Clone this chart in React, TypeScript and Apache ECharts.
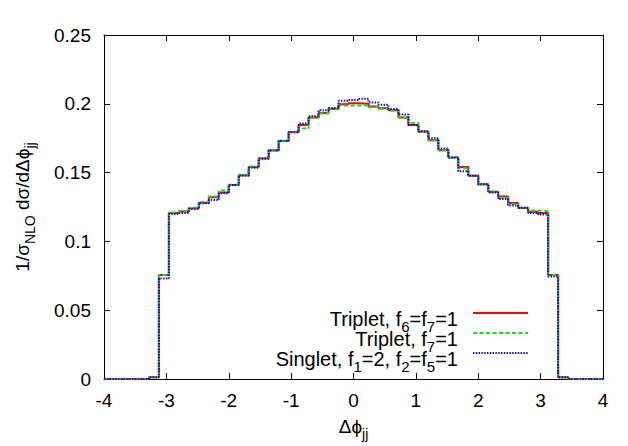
import React, { useEffect, useRef } from "react";
import * as echarts from "echarts";

// Histogram bin edges (Δϕ_jj)
const binEdges = [
  -3.28, -3.12, -2.96, -2.8, -2.64, -2.48, -2.32, -2.16, -2.0, -1.84, -1.68,
  -1.52, -1.36, -1.2, -1.04, -0.88, -0.72, -0.56, -0.4, -0.24, -0.08, 0.08,
  0.24, 0.4, 0.56, 0.72, 0.88, 1.04, 1.2, 1.36, 1.52, 1.68, 1.84, 2.0, 2.16,
  2.32, 2.48, 2.64, 2.8, 2.96, 3.12, 3.28, 3.44,
];

// Triplet, f6=f7=1
const tripletF6F7 = [
  0.0012, 0.0756, 0.1206, 0.1218, 0.124, 0.128, 0.132, 0.1356, 0.141, 0.148,
  0.154, 0.1604, 0.166, 0.173, 0.1793, 0.1846, 0.19, 0.1933, 0.1962, 0.1996,
  0.2004, 0.2, 0.198, 0.1967, 0.1953, 0.19, 0.1846, 0.1798, 0.1735, 0.1662,
  0.161, 0.154, 0.1478, 0.1415, 0.136, 0.1327, 0.1279, 0.1245, 0.1216, 0.1206,
  0.0755, 0.0012,
];

// Triplet, f7=1
const tripletF7 = [
  0.0012, 0.0756, 0.121, 0.1222, 0.1245, 0.1285, 0.1327, 0.137, 0.1412,
  0.1485, 0.1545, 0.1604, 0.1665, 0.173, 0.1795, 0.182, 0.19, 0.193, 0.196,
  0.1987, 0.1987, 0.199, 0.1975, 0.1962, 0.195, 0.19, 0.186, 0.1798, 0.1735,
  0.1662, 0.161, 0.1532, 0.1478, 0.1415, 0.1362, 0.1318, 0.127, 0.1245,
  0.1225, 0.122, 0.0755, 0.0012,
];

// Singlet, f1=2, f2=f5=1
const singlet = [
  0.0012, 0.073, 0.12, 0.1206, 0.1238, 0.1278, 0.13, 0.135, 0.141, 0.1478,
  0.1535, 0.16, 0.1662, 0.1732, 0.1795, 0.1856, 0.191, 0.1953, 0.197, 0.2022,
  0.2028, 0.2036, 0.201, 0.1993, 0.1962, 0.1922, 0.1846, 0.1798, 0.175,
  0.1676, 0.161, 0.151, 0.1478, 0.1415, 0.1356, 0.1308, 0.126, 0.1242, 0.1206,
  0.1196, 0.0745, 0.0012,
];

const seriesNames = [
  "Triplet, f{s|6}=f{s|7}=1",
  "Triplet, f{s|7}=1",
  "Singlet, f{s|1}=2, f{s|2}=f{s|5}=1",
];
const seriesColors = ["#ff0000", "#00ee00", "#0000ff"];
const seriesDash: (number[] | "solid")[] = ["solid", [4, 2.5], [1.4, 1.4]];

const X_MIN = -4;
const X_MAX = 4;

function toSteps(values: number[]): number[][] {
  const pts: number[][] = [[X_MIN, 0]];
  values.forEach((v, i) => pts.push([binEdges[i], v]));
  pts.push([binEdges[binEdges.length - 1], 0]);
  pts.push([X_MAX, 0]);
  return pts;
}

const FONT = "Liberation Sans, Arial, sans-serif";

function makeRich(normal: number, normalLH: number, sub: number, subLH: number, shift: number) {
  return {
    n: {
      fontSize: normal,
      fontFamily: FONT,
      color: "#000",
      lineHeight: normalLH,
      verticalAlign: "top",
    },
    s: {
      fontSize: sub,
      fontFamily: FONT,
      color: "#000",
      lineHeight: subLH,
      padding: [shift, 0, 0, 0],
      verticalAlign: "top",
    },
  };
}

const legendRich = makeRich(20, 16, 15, 10, 9.5);
const nameRich = makeRich(19, 19, 14, 14, 10);

function wrapRich(str: string): string {
  const parts = str.split(/(\{s\|[^}]*\})/);
  return parts
    .filter((p) => p.length > 0)
    .map((p) => (p.startsWith("{s|") ? p : `{n|${p}}`))
    .join("");
}

export default function App() {
  const ref = useRef<HTMLDivElement>(null);
  useEffect(() => {
    if (!ref.current) return;
    const chart = echarts.init(ref.current, null, { renderer: "svg" });
    const data = [tripletF6F7, tripletF7, singlet];

    const legendRightX = 458;
    const legendY = [313, 333, 353];
    const lineX0 = 473;
    const lineX1 = 528;

    const graphics: any[] = [];
    seriesNames.forEach((name, i) => {
      graphics.push({
        type: "text",
        x: legendRightX,
        y: legendY[i] - 4,
        style: {
          text: wrapRich(name),
          rich: legendRich,
          align: "right",
          verticalAlign: "top",
        },
        z: 10,
      });
      graphics.push({
        type: "line",
        shape: { x1: lineX0, y1: legendY[i], x2: lineX1, y2: legendY[i] },
        style: {
          stroke: seriesColors[i],
          lineWidth: 2,
          lineDash: seriesDash[i] === "solid" ? null : seriesDash[i],
        },
        z: 10,
      });
    });

    const axisCommon = {
      type: "value" as const,
      axisLine: { show: true, onZero: false, lineStyle: { color: "#000", width: 1 } },
      axisTick: { show: true, inside: true, length: 6, lineStyle: { color: "#000" } },
      splitLine: { show: false },
    };

    chart.setOption({
      animation: false,
      backgroundColor: "#fff",
      grid: { left: 104, right: 25, top: 35, bottom: 67, containLabel: false },
      xAxis: [
        {
          ...axisCommon,
          position: "bottom",
          min: X_MIN,
          max: X_MAX,
          interval: 1,
          axisLabel: { fontSize: 19, fontFamily: FONT, color: "#000", margin: 12 },
          name: "{n|Δϕ}{s|jj}",
          nameLocation: "middle",
          nameGap: 38,
          nameTextStyle: { rich: nameRich },
        },
        {
          ...axisCommon,
          position: "top",
          min: X_MIN,
          max: X_MAX,
          interval: 1,
          axisLabel: { show: false },
        },
      ],
      yAxis: [
        {
          ...axisCommon,
          position: "left",
          min: 0,
          max: 0.25,
          interval: 0.05,
          axisLabel: { fontSize: 19, fontFamily: FONT, color: "#000", margin: 13 },
          name: "{n|1/σ}{s|NLO}{n| dσ/dΔϕ}{s|jj}",
          nameLocation: "middle",
          nameGap: 72,
          nameTextStyle: { rich: nameRich },
        },
        {
          ...axisCommon,
          position: "right",
          min: 0,
          max: 0.25,
          interval: 0.05,
          axisLabel: { show: false },
        },
      ],
      series: data.map((vals, i) => ({
        type: "line",
        name: seriesNames[i],
        step: "end",
        data: toSteps(vals),
        showSymbol: false,
        symbol: "none",
        lineStyle: {
          color: seriesColors[i],
          width: 2,
          type: seriesDash[i],
        },
        z: 2 + i,
      })),
      graphic: graphics,
    });
    return () => chart.dispose();
  }, []);
  return <div ref={ref} style={{ width: 628, height: 446, marginLeft: -8, marginTop: -8 }} />;
}
